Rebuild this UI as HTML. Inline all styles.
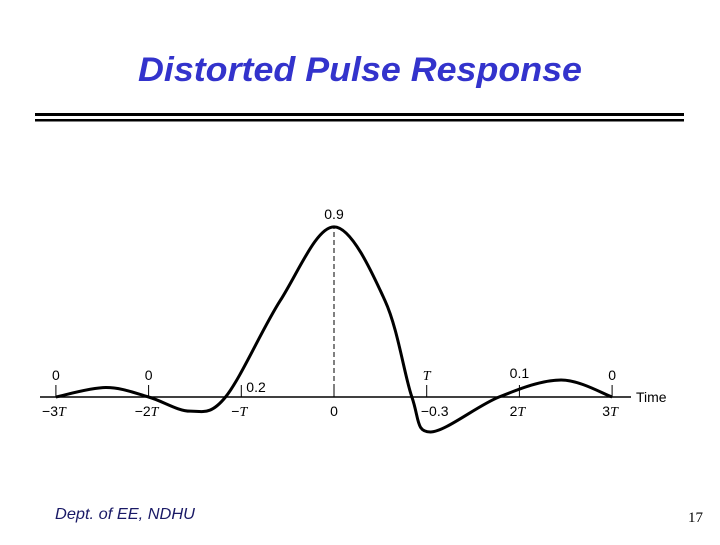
<!DOCTYPE html>
<html><head><meta charset="utf-8"><style>
body{margin:0;background:#fff;}
svg text{font-family:"Liberation Sans",sans-serif;}
</style></head><body>
<svg width="720" height="540" viewBox="0 0 720 540">
<text x="138" y="81" textLength="444" lengthAdjust="spacingAndGlyphs" font-size="34" font-weight="bold" font-style="italic" fill="#3333cc">Distorted Pulse Response</text>
<rect x="35" y="113" width="649" height="3" fill="#000"/>
<rect x="35" y="119" width="649" height="2.5" fill="#000"/>
<g id="chart"></g>
<text x="55" y="519" textLength="140" lengthAdjust="spacingAndGlyphs" font-size="16" font-style="italic" fill="#1a1a66">Dept. of EE, NDHU</text>
<text x="688" y="522" font-size="15" style="font-family:'Liberation Serif',serif" fill="#000">17</text>
</svg>
<script>
const times=[-3,-2.46,-2,-1.55,-1.17,-0.58,0,0.55,0.84,1.04,1.78,2.45,3];
const values=[0,0.05,0,-0.075,0,0.51,0.9,0.51,0,-0.185,0,0.09,0];
const tickTimes=[-3,-2,-1,0,1,2,3];
const tickLabels=["\u22123","\u22122","\u2212","0","\u22120.3","2","3"];
const tickLabelT=[true,true,true,false,false,true,true];
const sampleTimes=[-3,-2,-1,0,1,2,3];
const sampleLabels=["0","0","0.2","0.9","T","0.1","0"];
const NS="http://www.w3.org/2000/svg";
const g=document.getElementById('chart');
const X=t=>334+t*92.7, Y=v=>397-v*189;
function mk(tag,a){const e=document.createElementNS(NS,tag);for(const k in a)e.setAttribute(k,a[k]);g.appendChild(e);return e;}
let ax=mk('line',{x1:40,y1:397,x2:631,y2:397,stroke:'#000','stroke-width':1.5});


let tl=mk('text',{x:636,y:402,'font-size':14});tl.textContent='Time';


tickTimes.forEach((t,i)=>{
 let l=mk('line',{x1:X(t),y1:385,x2:X(t),y2:397,stroke:'#000','stroke-width':1});
 
 
 let tx=mk('text',{x:X(t)+(tickLabelT[i]?-2:(t===1?8:0)),y:416,'font-size':14,'text-anchor':'middle'});
 tx.innerHTML=tickLabels[i]+(tickLabelT[i]?'<tspan font-style="italic" style="font-family:\'Liberation Serif\',serif">T</tspan>':'');
 
 
});
sampleTimes.forEach((t,i)=>{
 const lab=sampleLabels[i];
 let x=X(t),y=380,anchor='middle';
 if(lab==='0.2'){x=X(t)+5;y=392;anchor='start';}
 if(lab==='0.9'){y=219;}
 if(lab==='0.1'){y=378;}
 let tx=mk('text',{x:x,y:y,'font-size':14,'text-anchor':anchor});
 tx.textContent=lab;
 if(lab==='T'){tx.setAttribute('font-style','italic');tx.style.fontFamily="'Liberation Serif',serif";}
 
 
});
let dl=mk('line',{x1:X(0),y1:397,x2:X(0),y2:Y(0.9),stroke:'#000','stroke-width':1,'stroke-dasharray':'5,3'});


const P=times.map((t,i)=>[X(t),Y(values[i])]);
let d='M'+P[0][0]+','+P[0][1];
for(let i=0;i<P.length-1;i++){
 const p0=P[Math.max(0,i-1)],p1=P[i],p2=P[i+1],p3=P[Math.min(P.length-1,i+2)];
 const c1=[p1[0]+(p2[0]-p0[0])/6,p1[1]+(p2[1]-p0[1])/6];
 const c2=[p2[0]-(p3[0]-p1[0])/6,p2[1]-(p3[1]-p1[1])/6];
 d+=` C${c1[0]},${c1[1]} ${c2[0]},${c2[1]} ${p2[0]},${p2[1]}`;
}
let c=mk('path',{d:d,fill:'none',stroke:'#000','stroke-width':3});


</script>
</body></html>
